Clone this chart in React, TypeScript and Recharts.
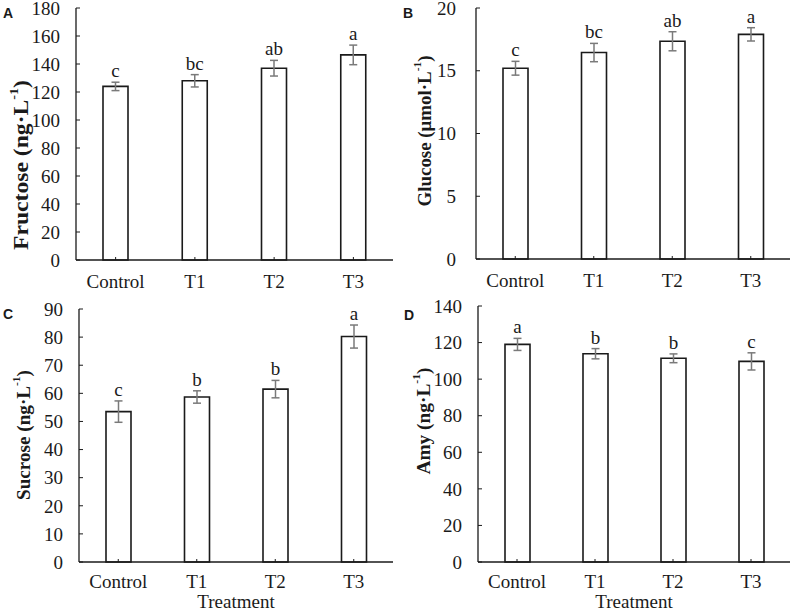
import React from 'react';
import { BarChart, Bar, XAxis, YAxis, ErrorBar, LabelList, Label } from 'recharts';

const treatments = ['Control', 'T1', 'T2', 'T3'];

const fructose = [124, 128, 137, 146.5];
const fructoseErr = [3, 4.4, 5.6, 7];
const fructoseSig = ['c', 'bc', 'ab', 'a'];
const fructoseTicks = [0, 20, 40, 60, 80, 100, 120, 140, 160, 180];

const glucose = [15.2, 16.45, 17.35, 17.9];
const glucoseErr = [0.55, 0.73, 0.76, 0.53];
const glucoseSig = ['c', 'bc', 'ab', 'a'];
const glucoseTicks = [0, 5, 10, 15, 20];

const sucrose = [53.5, 58.7, 61.5, 80.2];
const sucroseErr = [3.8, 2.2, 3.1, 4.1];
const sucroseSig = ['c', 'b', 'b', 'a'];
const sucroseTicks = [0, 10, 20, 30, 40, 50, 60, 70, 80, 90];

const amy = [119, 113.9, 111.4, 109.7];
const amyErr = [3.3, 2.8, 2.4, 4.7];
const amySig = ['a', 'b', 'b', 'c'];
const amyTicks = [0, 20, 40, 60, 80, 100, 120, 140];

const SERIF = "'Liberation Serif', 'Times New Roman', serif";
const INK = '#1a1a1a';
const FS = 19;

const AxisTitle = ({ cx, cy, name, unit, len, size }: any) => (
  <text
    transform={`translate(${cx},${cy}) rotate(-90)`}
    textAnchor="middle"
    dominantBaseline="central"
    fontFamily={SERIF}
    fontWeight="bold"
    fontSize={size}
    fill={INK}
    textLength={len}
    lengthAdjust="spacingAndGlyphs"
  >
    {`${name} (${unit}·L`}
    <tspan dy={-7} fontSize={size * 0.6}>-1</tspan>
    <tspan dy={7}>)</tspan>
  </text>
);

const Panel = ({ letter, values, errs, sig, ticks, name, unit, title, left, top, width, height, yw, mt, xh, tickGap, xGap, showX }: any) => {
  const rows = treatments.map((t, i) => ({ name: t, value: values[i], err: errs[i], sig: sig[i] }));
  const max = ticks[ticks.length - 1];

  // letters sit just above the top of each error bar
  const sigLabel = (p: any) => {
    const vb = p.viewBox ?? p;
    const i = p.index;
    const ppu = Math.abs(vb.height) / values[i];
    const errTop = vb.y - errs[i] * ppu;
    return (
      <text key={i} x={vb.x + vb.width / 2} y={errTop - 5} textAnchor="middle" fontFamily={SERIF} fontSize={FS} fill={INK}>
        {sig[i]}
      </text>
    );
  };

  return (
    <div style={{ position: 'absolute', left, top }}>
      <BarChart width={width} height={height} data={rows} margin={{ top: mt, right: 3, bottom: 0, left: 0 }}>
        <XAxis
          dataKey="name"
          height={xh}
          tickSize={-3}
          tickMargin={xGap}
          tickLine={{ stroke: INK, strokeWidth: 1 }}
          axisLine={{ stroke: INK, strokeWidth: 1.3 }}
          tick={{ fontFamily: SERIF, fontSize: FS, fill: INK }}
        >
          {showX && (
            <Label value="Treatment" position="insideBottom" offset={2} style={{ fontFamily: SERIF, fontSize: FS, fill: INK }} />
          )}
        </XAxis>
        <XAxis xAxisId="top" orientation="top" dataKey="name" height={0} tick={false} tickLine={false} axisLine={{ stroke: INK, strokeWidth: 1.3 }} />
        <YAxis
          width={yw}
          domain={[0, max]}
          ticks={ticks}
          interval={0}
          tickSize={-4}
          tickMargin={tickGap}
          tickLine={{ stroke: INK, strokeWidth: 1 }}
          axisLine={{ stroke: INK, strokeWidth: 1.3 }}
          tick={{ fontFamily: SERIF, fontSize: FS, fill: INK }}
        >
          <Label content={() => <AxisTitle {...title} name={name} unit={unit} />} />
        </YAxis>
        <YAxis yAxisId="right" orientation="right" width={0} domain={[0, max]} tick={false} tickLine={false} axisLine={{ stroke: INK, strokeWidth: 1.3 }} />
        <Bar dataKey="value" barSize={25} fill="#ffffff" stroke={INK} strokeWidth={1.6} isAnimationActive={false}>
          <ErrorBar dataKey="err" width={4} stroke="#7a7a7a" strokeWidth={1.5} isAnimationActive={false} />
          <LabelList dataKey="sig" content={sigLabel} />
        </Bar>
      </BarChart>
      <div
        style={{
          position: 'absolute',
          left: letter.x,
          top: letter.y,
          fontFamily: "'Liberation Sans', Arial, sans-serif",
          fontWeight: 'bold',
          fontSize: 14,
          lineHeight: '14px',
          color: INK,
        }}
      >
        {letter.t}
      </div>
    </div>
  );
};

export default function App() {
  return (
    <div style={{ position: 'absolute', left: 0, top: 0, width: 793, height: 610, background: '#fff', overflow: 'hidden' }}>
      <Panel
        letter={{ t: 'A', x: 3, y: 6 }}
        values={fructose} errs={fructoseErr} sig={fructoseSig} ticks={fructoseTicks}
        name="Fructose" unit="ng" title={{ cx: 21, cy: 165, len: 170, size: 21 }}
        left={0} top={0} width={396} height={300} yw={76} mt={8} xh={40} tickGap={20} xGap={18}
      />
      <Panel
        letter={{ t: 'B', x: 7, y: 6 }}
        values={glucose} errs={glucoseErr} sig={glucoseSig} ticks={glucoseTicks}
        name="Glucose" unit="μmol" title={{ cx: 28, cy: 131, len: 151, size: 19 }}
        left={396} top={0} width={397} height={300} yw={80} mt={8} xh={41} tickGap={24} xGap={18}
      />
      <Panel
        letter={{ t: 'C', x: 3, y: 7 }}
        values={sucrose} errs={sucroseErr} sig={sucroseSig} ticks={sucroseTicks}
        name="Sucrose" unit="ng" title={{ cx: 23, cy: 135, len: 130, size: 19 }}
        left={0} top={300} width={396} height={310} yw={79} mt={9} xh={48} tickGap={20} xGap={16} showX
      />
      <Panel
        letter={{ t: 'D', x: 8, y: 12 }}
        values={amy} errs={amyErr} sig={amySig} ticks={amyTicks}
        name="Amy" unit="ng" title={{ cx: 27, cy: 125, len: 107, size: 19 }}
        left={396} top={296} width={397} height={314} yw={82} mt={10} xh={48} tickGap={20} xGap={16} showX
      />
    </div>
  );
}
